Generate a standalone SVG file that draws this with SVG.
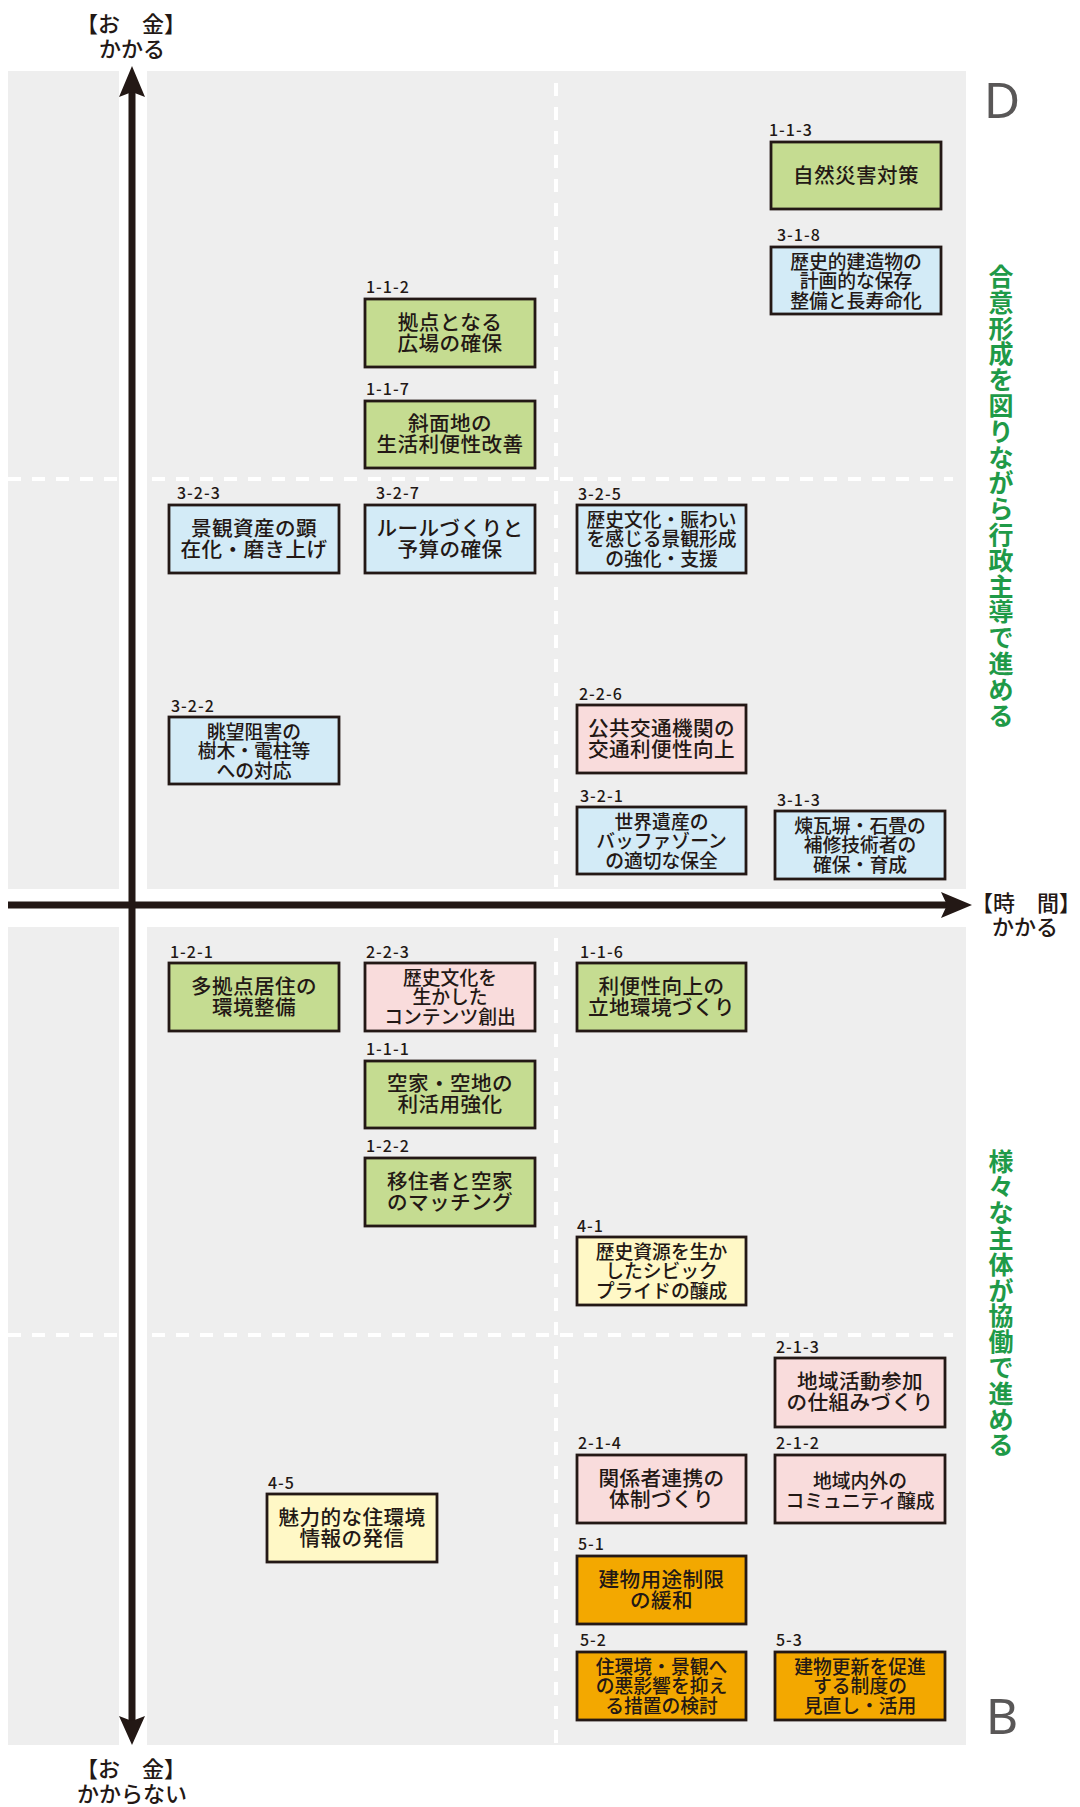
<svg xmlns="http://www.w3.org/2000/svg" width="1080" height="1807" viewBox="0 0 1080 1807">
<style>
text{font-family:"Noto Sans CJK JP","Noto Sans",sans-serif;fill:#231815}
.panel{fill:#eeeeee}
.dash{stroke:#ffffff;stroke-width:4;stroke-dasharray:13 11;fill:none}
.axis{stroke:#231815;stroke-width:7;fill:none}
.head{fill:#231815}
.box{stroke:#231815;stroke-width:2.8}
.g{fill:#c5dc91}.b{fill:#d3ebf7}.p{fill:#f9dcdc}.y{fill:#fff8c6}.o{fill:#f3a800}
.id{font-size:16px;font-weight:500;letter-spacing:1px}
.t21{font-size:20.6px;font-weight:500;text-anchor:middle;letter-spacing:0.4px}
.t19{font-size:18.8px;font-weight:500;text-anchor:middle}
.ax{font-size:22px;font-weight:500;text-anchor:middle}
.vt{font-size:25px;font-weight:700;text-anchor:middle;fill:#1f9a48}
.big{font-family:"Noto Sans","Open Sans",sans-serif;font-size:50px;font-weight:400;fill:#595757;text-anchor:middle}
</style>
<g id="background">
<rect class="panel" x="8" y="71" width="111" height="818"/>
<rect class="panel" x="147" y="71" width="819" height="818"/>
<rect class="panel" x="8" y="927" width="111" height="818"/>
<rect class="panel" x="147" y="927" width="819" height="818"/>
<path class="dash" d="M8,479 H953 M8,1335 H953 M556,83 V887 M556,938 V1745"/>
</g>
<g id="axes">
<path class="axis" d="M132,92 V1721 M8,905 H947"/>
<path class="head" d="M132,66 L145,97 L132,92 L119,97 Z"/>
<path class="head" d="M132,1745 L145,1716 L132,1721 L119,1716 Z"/>
<path class="head" d="M972,905 L941,892 L947,905 L941,918 Z"/>
</g>
<g id="axis-labels">
<text class="ax" x="131" y="32">【お　金】</text>
<text class="ax" x="132" y="57">かかる</text>
<text class="ax" x="131" y="1777">【お　金】</text>
<text class="ax" x="132" y="1802">かからない</text>
<text class="ax" x="1026" y="911">【時　間】</text>
<text class="ax" x="1025" y="935">かかる</text>
<text class="big" x="1002" y="118">D</text>
<text class="big" x="1002" y="1734">B</text>
<text class="vt"><tspan x="1001" y="286">合</tspan><tspan x="1001" dy="25.8">意</tspan><tspan x="1001" dy="25.8">形</tspan><tspan x="1001" dy="25.8">成</tspan><tspan x="1001" dy="25.8">を</tspan><tspan x="1001" dy="25.8">図</tspan><tspan x="1001" dy="25.8">り</tspan><tspan x="1001" dy="25.8">な</tspan><tspan x="1001" dy="25.8">が</tspan><tspan x="1001" dy="25.8">ら</tspan><tspan x="1001" dy="25.8">行</tspan><tspan x="1001" dy="25.8">政</tspan><tspan x="1001" dy="25.8">主</tspan><tspan x="1001" dy="25.8">導</tspan><tspan x="1001" dy="25.8">で</tspan><tspan x="1001" dy="25.8">進</tspan><tspan x="1001" dy="25.8">め</tspan><tspan x="1001" dy="25.8">る</tspan></text>
<text class="vt"><tspan x="1001" y="1170.5">様</tspan><tspan x="1001" dy="25.8">々</tspan><tspan x="1001" dy="25.8">な</tspan><tspan x="1001" dy="25.8">主</tspan><tspan x="1001" dy="25.8">体</tspan><tspan x="1001" dy="25.8">が</tspan><tspan x="1001" dy="25.8">協</tspan><tspan x="1001" dy="25.8">働</tspan><tspan x="1001" dy="25.8">で</tspan><tspan x="1001" dy="25.8">進</tspan><tspan x="1001" dy="25.8">め</tspan><tspan x="1001" dy="25.8">る</tspan></text>
</g>
<g id="nodes">
<g id="n1-1-3"><text class="id" x="769" y="136">1-1-3</text><rect class="box g" x="771" y="142" width="170" height="67"/><text class="t21" x="856" y="183">自然災害対策</text></g>
<g id="n3-1-8"><text class="id" x="777" y="241">3-1-8</text><rect class="box b" x="771" y="247" width="170" height="67"/><text class="t19" x="856"><tspan x="856" y="268.5">歴史的建造物の</tspan><tspan x="856" y="288">計画的な保存</tspan><tspan x="856" y="307.5">整備と長寿命化</tspan></text></g>
<g id="n1-1-2"><text class="id" x="366" y="293">1-1-2</text><rect class="box g" x="365" y="299" width="170" height="68"/><text class="t21"><tspan x="450" y="329.5">拠点となる</tspan><tspan x="450" y="350.5">広場の確保</tspan></text></g>
<g id="n1-1-7"><text class="id" x="366" y="395">1-1-7</text><rect class="box g" x="365" y="401" width="170" height="67"/><text class="t21"><tspan x="450" y="431">斜面地の</tspan><tspan x="450" y="452">生活利便性改善</tspan></text></g>
<g id="n3-2-3"><text class="id" x="177" y="499">3-2-3</text><rect class="box b" x="169" y="505" width="170" height="68"/><text class="t21"><tspan x="254" y="535.5">景観資産の顕</tspan><tspan x="254" y="556.5">在化・磨き上げ</tspan></text></g>
<g id="n3-2-7"><text class="id" x="376" y="499">3-2-7</text><rect class="box b" x="365" y="505" width="170" height="68"/><text class="t21"><tspan x="450" y="535.5">ルールづくりと</tspan><tspan x="450" y="556.5">予算の確保</tspan></text></g>
<g id="n3-2-5"><text class="id" x="578" y="500">3-2-5</text><rect class="box b" x="577" y="505" width="169" height="68"/><text class="t19"><tspan x="661.5" y="526.5">歴史文化・賑わい</tspan><tspan x="661.5" y="546">を感じる景観形成</tspan><tspan x="661.5" y="565.5">の強化・支援</tspan></text></g>
<g id="n3-2-2"><text class="id" x="171" y="712">3-2-2</text><rect class="box b" x="169" y="717" width="170" height="67"/><text class="t19"><tspan x="254" y="738.5">眺望阻害の</tspan><tspan x="254" y="758">樹木・電柱等</tspan><tspan x="254" y="777.5">への対応</tspan></text></g>
<g id="n2-2-6"><text class="id" x="579" y="700">2-2-6</text><rect class="box p" x="577" y="705" width="169" height="68"/><text class="t21"><tspan x="661.5" y="735.5">公共交通機関の</tspan><tspan x="661.5" y="756.5">交通利便性向上</tspan></text></g>
<g id="n3-2-1"><text class="id" x="580" y="802">3-2-1</text><rect class="box b" x="577" y="807" width="169" height="67"/><text class="t19"><tspan x="661.5" y="828.5">世界遺産の</tspan><tspan x="661.5" y="848">バッファゾーン</tspan><tspan x="661.5" y="867.5">の適切な保全</tspan></text></g>
<g id="n3-1-3"><text class="id" x="777" y="806">3-1-3</text><rect class="box b" x="775" y="811" width="170" height="68"/><text class="t19"><tspan x="860" y="832.5">煉瓦塀・石畳の</tspan><tspan x="860" y="852">補修技術者の</tspan><tspan x="860" y="871.5">確保・育成</tspan></text></g>
<g id="n1-2-1"><text class="id" x="170" y="958">1-2-1</text><rect class="box g" x="169" y="963" width="170" height="68"/><text class="t21"><tspan x="254" y="993.5">多拠点居住の</tspan><tspan x="254" y="1014.5">環境整備</tspan></text></g>
<g id="n2-2-3"><text class="id" x="366" y="958">2-2-3</text><rect class="box p" x="365" y="963" width="170" height="68"/><text class="t19"><tspan x="450" y="984.5">歴史文化を</tspan><tspan x="450" y="1004">生かした</tspan><tspan x="450" y="1023.5">コンテンツ創出</tspan></text></g>
<g id="n1-1-6"><text class="id" x="580" y="958">1-1-6</text><rect class="box g" x="577" y="963" width="169" height="68"/><text class="t21"><tspan x="661.5" y="993.5">利便性向上の</tspan><tspan x="661.5" y="1014.5">立地環境づくり</tspan></text></g>
<g id="n1-1-1"><text class="id" x="366" y="1055">1-1-1</text><rect class="box g" x="365" y="1061" width="170" height="67"/><text class="t21"><tspan x="450" y="1091">空家・空地の</tspan><tspan x="450" y="1112">利活用強化</tspan></text></g>
<g id="n1-2-2"><text class="id" x="366" y="1152">1-2-2</text><rect class="box g" x="365" y="1158" width="170" height="68"/><text class="t21"><tspan x="450" y="1188.5">移住者と空家</tspan><tspan x="450" y="1209.5">のマッチング</tspan></text></g>
<g id="n4-1"><text class="id" x="577" y="1232">4-1</text><rect class="box y" x="577" y="1237" width="169" height="68"/><text class="t19"><tspan x="661.5" y="1258.5">歴史資源を生か</tspan><tspan x="661.5" y="1278">したシビック</tspan><tspan x="661.5" y="1297.5">プライドの醸成</tspan></text></g>
<g id="n2-1-3"><text class="id" x="776" y="1353">2-1-3</text><rect class="box p" x="775" y="1358" width="170" height="69"/><text class="t21"><tspan x="860" y="1389">地域活動参加</tspan><tspan x="860" y="1410">の仕組みづくり</tspan></text></g>
<g id="n2-1-4"><text class="id" x="578" y="1449">2-1-4</text><rect class="box p" x="577" y="1455" width="169" height="68"/><text class="t21"><tspan x="661.5" y="1485.5">関係者連携の</tspan><tspan x="661.5" y="1506.5">体制づくり</tspan></text></g>
<g id="n2-1-2"><text class="id" x="776" y="1449">2-1-2</text><rect class="box p" x="775" y="1455" width="170" height="68"/><text class="t19"><tspan x="860" y="1487.5">地域内外の</tspan><tspan x="860" y="1508">コミュニティ醸成</tspan></text></g>
<g id="n4-5"><text class="id" x="268" y="1489">4-5</text><rect class="box y" x="267" y="1494" width="170" height="68"/><text class="t21"><tspan x="352" y="1524.5">魅力的な住環境</tspan><tspan x="352" y="1545.5">情報の発信</tspan></text></g>
<g id="n5-1"><text class="id" x="578" y="1550">5-1</text><rect class="box o" x="577" y="1556" width="169" height="68"/><text class="t21"><tspan x="661.5" y="1586.5">建物用途制限</tspan><tspan x="661.5" y="1607.5">の緩和</tspan></text></g>
<g id="n5-2"><text class="id" x="580" y="1646">5-2</text><rect class="box o" x="577" y="1652" width="169" height="68"/><text class="t19"><tspan x="661.5" y="1673.5">住環境・景観へ</tspan><tspan x="661.5" y="1693">の悪影響を抑え</tspan><tspan x="661.5" y="1712.5">る措置の検討</tspan></text></g>
<g id="n5-3"><text class="id" x="776" y="1646">5-3</text><rect class="box o" x="775" y="1652" width="170" height="68"/><text class="t19"><tspan x="860" y="1673.5">建物更新を促進</tspan><tspan x="860" y="1693">する制度の</tspan><tspan x="860" y="1712.5">見直し・活用</tspan></text></g>
</g>
</svg>
